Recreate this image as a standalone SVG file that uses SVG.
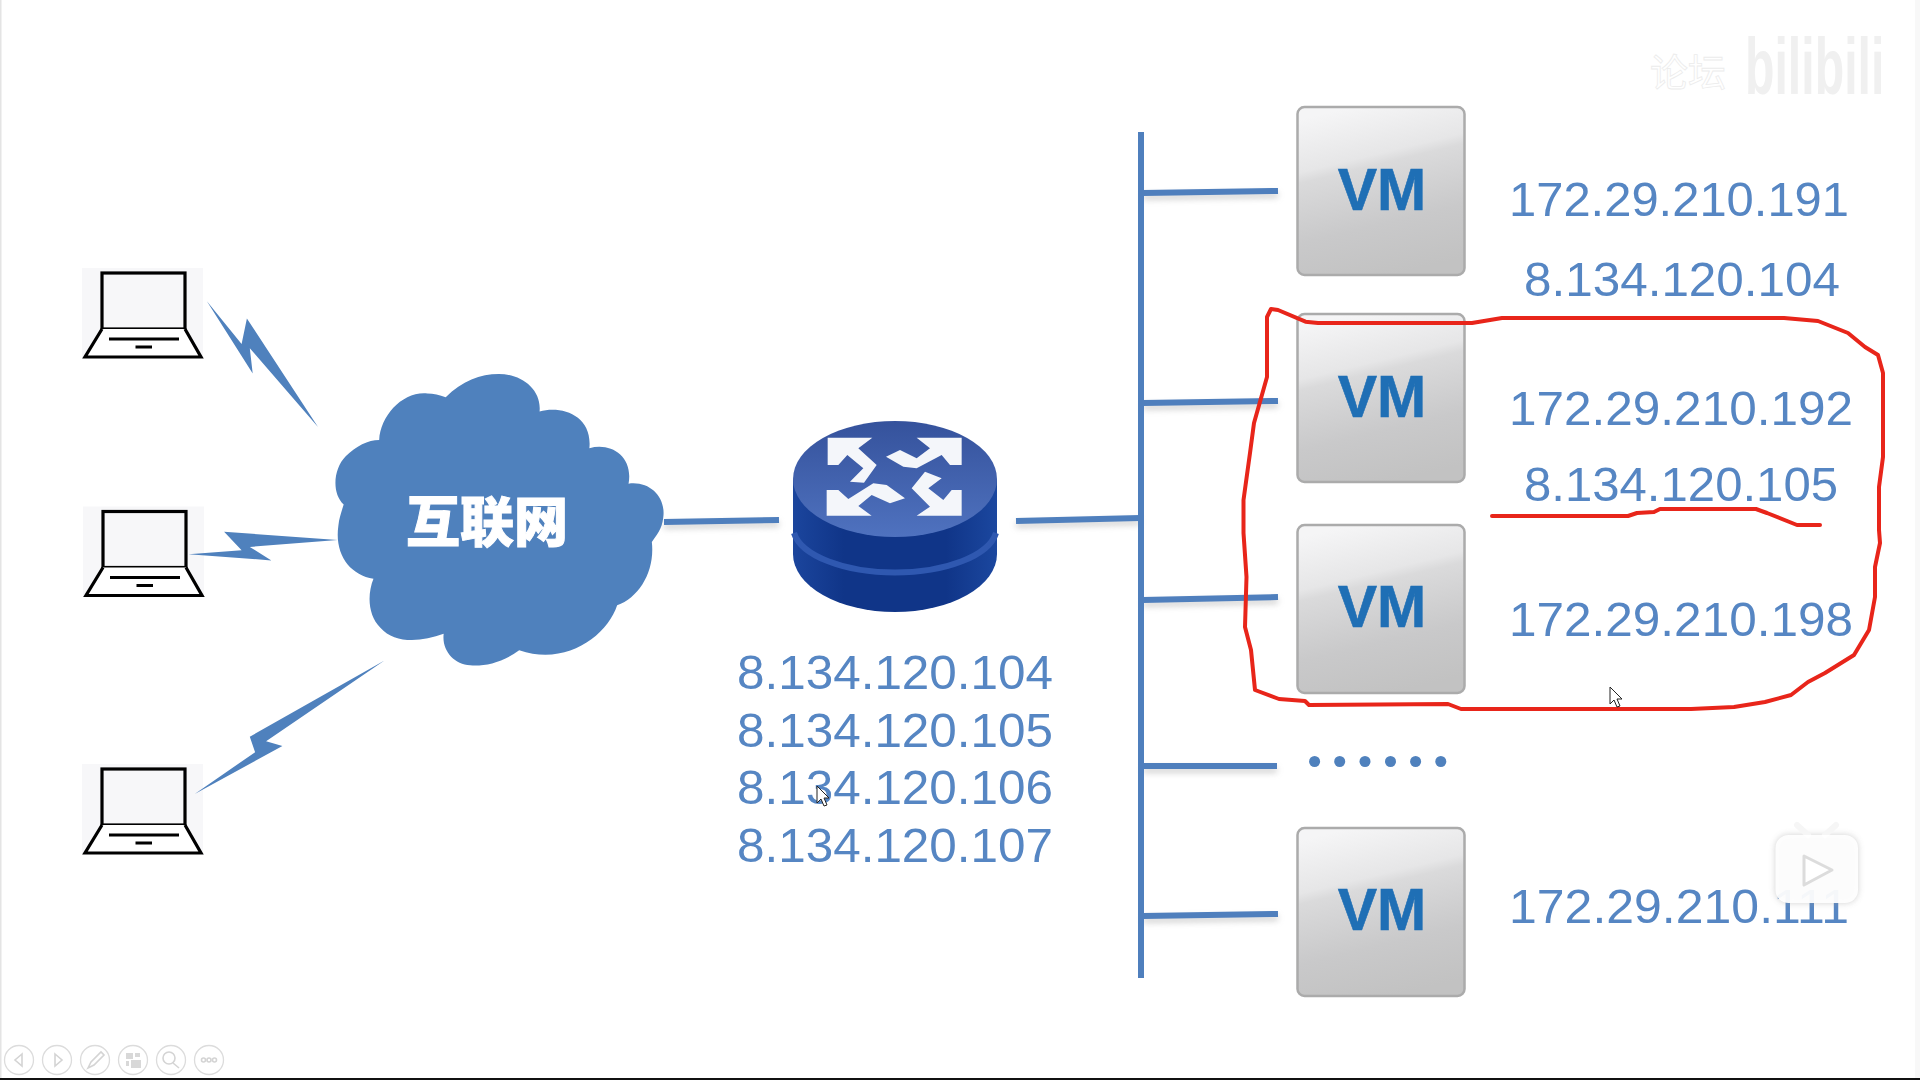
<svg xmlns="http://www.w3.org/2000/svg" width="1920" height="1080" viewBox="0 0 1920 1080">
<style>
.ip{font-family:"Liberation Sans",Arial,sans-serif;font-size:49px;fill:#5686c3}
.vmt{font-family:"Liberation Sans",Arial,sans-serif;font-size:59px;font-weight:bold;fill:#1f6fb5;text-anchor:middle;stroke:#1f6fb5;stroke-width:.6}
.conn{stroke:#4f7fbd;stroke-width:6;fill:none}
.bolt{fill:#4f81bd}
.red{fill:none;stroke:#e8251a;stroke-width:4;stroke-linejoin:round;stroke-linecap:round}
.tb{fill:#fff;stroke:#dcdcdc;stroke-width:1.3}
.tbi{fill:none;stroke:#d4d4d4;stroke-width:1.6}
.cur{fill:#fff;stroke:#222;stroke-width:1}
</style>
<defs>
<linearGradient id="vmg" x1=".32" y1="0" x2=".56" y2="1">
<stop offset="0" stop-color="#f5f5f6"/><stop offset=".3" stop-color="#e6e6e7"/><stop offset=".36" stop-color="#dadadb"/><stop offset=".7" stop-color="#c9c9ca"/><stop offset="1" stop-color="#c2c2c2"/>
</linearGradient>
<linearGradient id="topg" x1="0" y1="0" x2="0" y2="1">
<stop offset="0" stop-color="#35529c"/><stop offset="1" stop-color="#4f72bf"/>
</linearGradient>
<linearGradient id="bodyg" x1="0" y1="0" x2="1" y2="0">
<stop offset="0" stop-color="#1b459d"/><stop offset=".25" stop-color="#103588"/><stop offset=".75" stop-color="#103588"/><stop offset="1" stop-color="#1b479f"/>
</linearGradient>
<filter id="sh" x="-10%" y="-200%" width="120%" height="600%"><feGaussianBlur stdDeviation="3"/></filter>
<filter id="sh2" x="-20%" y="-20%" width="140%" height="140%"><feGaussianBlur stdDeviation="3"/></filter>
<g id="laptop">
<rect x="82" y="268" width="121" height="90" fill="#f7f7f9"/>
<rect x="102" y="273" width="83" height="56" fill="#f7f7f9" stroke="#000" stroke-width="3.2"/>
<path d="M102 329 L85 357 H201 L185 329" fill="#fff" stroke="#000" stroke-width="3.2"/>
<path d="M109 339 H179 M135.500 347 H152" stroke="#000" stroke-width="3" fill="none"/>
</g>
<g id="vmbox">
<rect x="1297.500" y="0" width="167" height="168" rx="7" fill="url(#vmg)" stroke="#ababab" stroke-width="2.500"/>
</g>
</defs>
<rect width="1920" height="1080" fill="#fff"/>
<rect x="0" y="0" width="1.500" height="1080" fill="#e4e4e4"/>
<rect x="1915" y="0" width="5" height="1080" fill="#f8f8f8"/>
<rect x="0" y="1078" width="1920" height="2" fill="#111"/>

<g id="laptop1"><use href="#laptop"/></g>
<g id="laptop2"><use href="#laptop" x="1" y="238.500"/></g>
<g id="laptop3"><use href="#laptop" y="496"/></g>

<g id="connectors">
<path d="M664 526 L779 524 M1016 525 L1140 522 M1143 197 L1278 195 M1143 407 L1278 405 M1143 604 L1278 601 M1143 770 L1277 770 M1143 920 L1278 918" stroke="#999" stroke-width="5" fill="none" opacity=".5" filter="url(#sh)"/>
<path class="conn" d="M664 522 L779 520 M1016 521 L1140 518 M1143 193 L1278 191 M1143 403 L1278 401 M1143 600 L1278 597 M1143 766 L1277 766 M1143 916 L1278 914"/>
<path class="conn" d="M1141 132 V978"/>
<polygon class="bolt" points="206.900,301.200 241.600,344.100 246.900,318.400 318,426.900 249.800,348.200 252.700,373.500"/>
<polygon class="bolt" points="188.600,554.300 241.600,550.200 224.100,531.800 337.600,540 249.800,546.900 271.400,560.400"/>
<polygon class="bolt" points="194.700,793.900 255.100,752.200 249.800,736.700 384.500,660.400 266.100,741.200 282.400,746.100"/>
</g>

<g id="cloud">
<path transform="translate(60 240) scale(.40816)" fill="#4f81bd" d="M945,385 C985,345 1030,328 1075,328 C1130,328 1180,365 1175,420 C1230,405 1305,430 1297,510 C1350,495 1405,530 1393,597 C1445,590 1485,630 1478,680 C1475,710 1460,725 1450,740 C1458,810 1420,875 1365,895 C1340,970 1240,1045 1125,1005 C1085,1035 1040,1045 1005,1042 C965,1040 935,1005 940,965 C885,985 820,990 785,950 C755,920 752,870 768,830 C710,820 672,770 682,700 C684,680 690,665 695,648 C665,620 670,560 700,530 C725,505 755,490 782,490 C785,430 840,370 900,376 C915,376 930,380 945,385 Z"/>
<text x="487" y="542" text-anchor="middle" font-family="'Noto Sans CJK SC',sans-serif" font-size="54" font-weight="900" fill="#fff" stroke="#fff" stroke-width="1">互联网</text>
</g>

<g id="router">
<path d="M793 479 V554 A102 58 0 0 0 997 554 V479 Z" fill="url(#bodyg)"/>
<path d="M794 533 A102 46 0 0 0 996 533" fill="none" stroke="#2f58b0" stroke-width="6"/>
<ellipse cx="895" cy="479" rx="102" ry="58" fill="url(#topg)"/>
<g transform="translate(760 400) scale(.33333)" fill="#f4f6fa">
<polygon points="203,113 337,113 295,145 350,195 312,248 270,245 310,205 262,165 235,195 203,195"/>
<polygon points="605,113 470,113 510,145 470,175 420,150 378,170 430,200 470,205 545,165 570,195 605,195"/>
<polygon points="605,347 470,347 510,320 455,265 495,215 545,235 505,265 550,300 575,270 605,270"/>
<polygon points="200,347 335,347 295,318 335,285 390,310 435,295 380,255 340,250 265,297 235,270 200,270"/>
</g>
</g>

<g id="router-ips">
<text class="ip" x="737" y="689" textLength="316" lengthAdjust="spacingAndGlyphs">8.134.120.104</text>
<text class="ip" x="737" y="747" textLength="316" lengthAdjust="spacingAndGlyphs">8.134.120.105</text>
<text class="ip" x="737" y="804" textLength="316" lengthAdjust="spacingAndGlyphs">8.134.120.106</text>
<text class="ip" x="737" y="862" textLength="316" lengthAdjust="spacingAndGlyphs">8.134.120.107</text>
</g>

<g id="vm1"><use href="#vmbox" y="107"/><text class="vmt" x="1382" y="210">VM</text>
<text class="ip" x="1509" y="216" textLength="340" lengthAdjust="spacingAndGlyphs">172.29.210.191</text>
<text class="ip" x="1524" y="296" textLength="316" lengthAdjust="spacingAndGlyphs">8.134.120.104</text></g>
<g id="vm2"><use href="#vmbox" y="314"/><text class="vmt" x="1382" y="417">VM</text>
<text class="ip" x="1509" y="425" textLength="344" lengthAdjust="spacingAndGlyphs">172.29.210.192</text>
<text class="ip" x="1524" y="501" textLength="314" lengthAdjust="spacingAndGlyphs">8.134.120.105</text></g>
<g id="vm3"><use href="#vmbox" y="525"/><text class="vmt" x="1382" y="627">VM</text>
<text class="ip" x="1509" y="636" textLength="344" lengthAdjust="spacingAndGlyphs">172.29.210.198</text></g>
<g id="dots" fill="#4f81bd">
<circle cx="1314.600" cy="761.500" r="5.500"/><circle cx="1339.700" cy="761.500" r="5.500"/><circle cx="1365" cy="761.500" r="5.500"/><circle cx="1390.500" cy="761.500" r="5.500"/><circle cx="1415.600" cy="761.500" r="5.500"/><circle cx="1440.800" cy="761.500" r="5.500"/>
</g>
<g id="vm5"><use href="#vmbox" y="828"/><text class="vmt" x="1382" y="930">VM</text>
<text class="ip" x="1509" y="923" textLength="340" lengthAdjust="spacingAndGlyphs">172.29.210.111</text></g>

<g id="annotations">
<path class="red" d="M1271 309 L1278 310 L1305.500 321.700 L1318 323 L1472 323 L1502 318 L1545 318 L1784 318 L1818 321 L1848 333 L1865 347 L1878 355 L1883 373 L1883 457 L1879 487 L1879 530 L1880 543 L1875 567 L1875 597 L1869 630 L1854 655 L1825 673 L1808 682 L1791 695 L1765 702 L1734 707 L1691 709 L1461 709 L1448 704 L1309 705 L1305 701 L1279 699 L1255 690 L1251 650 L1245 627 L1246.500 577 L1243.500 533 L1243.500 500 L1250 453 L1254 423 L1267 377 L1267 317 Z"/>
<path class="red" d="M1492 516 L1628 516 L1637 513 L1654 512 L1660 509 L1756 509 L1767 513 L1797 525 L1820 525"/>
<polygon class="cur" points="1610,687 1610,704 1614,700 1617,707 1620,706 1617,699 1622,699"/>
<polygon class="cur" points="817,786 817,803 821,799 824,806 827,805 824,798 829,798"/>
</g>

<g id="player-toolbar">
<circle class="tb" cx="19" cy="1060" r="14.500"/><path class="tbi" d="M22 1054 L15 1060 L22 1066 Z"/>
<circle class="tb" cx="57" cy="1060" r="14.500"/><path class="tbi" d="M55 1054 L62 1060 L55 1066 Z"/>
<circle class="tb" cx="95" cy="1060" r="14.500"/><path class="tbi" d="M88 1068 L91 1062 L101 1052 L104 1055 L94 1065 Z"/>
<circle class="tb" cx="133" cy="1060" r="14.500"/><path d="M126 1053 h7 v6 h-7 z M135 1053 h5 v4 h-5 z M131 1060 h10 v8 h-10 z M126 1061 h3 v5 h-3 z" fill="#d8d8d8"/>
<circle class="tb" cx="171" cy="1060" r="14.500"/><circle class="tbi" cx="169" cy="1058" r="6"/><path class="tbi" d="M173 1063 L179 1068"/>
<circle class="tb" cx="209" cy="1060" r="14.500"/><circle class="tbi" cx="203.500" cy="1060" r="2"/><circle class="tbi" cx="209" cy="1060" r="2"/><circle class="tbi" cx="214.500" cy="1060" r="2"/>
</g>

<g id="watermark">
<text transform="translate(1745 94) scale(.603 1)" font-family="'Liberation Sans',sans-serif" font-size="80" font-weight="bold" fill="#f0f0f0">bilibili</text>
<text x="1650" y="86" font-family="'Noto Sans CJK SC',sans-serif" font-size="38" fill="#fff" stroke="#ececec" stroke-width=".8">论坛</text>
<rect x="1775.500" y="835" width="82.500" height="68" rx="13" fill="#999" opacity=".45" filter="url(#sh2)"/>
<path d="M1797 825 L1808 835 M1836 825 L1825 835" stroke="#f6f6f6" stroke-width="6" stroke-linecap="round"/>
<rect x="1775.500" y="835" width="82.500" height="68" rx="13" fill="#fff" fill-opacity=".93"/>
<path d="M1804 856 L1832 870 L1804 885 Z" fill="#fff" stroke="#dcdcdc" stroke-width="3" stroke-linejoin="round"/>
</g>
</svg>
